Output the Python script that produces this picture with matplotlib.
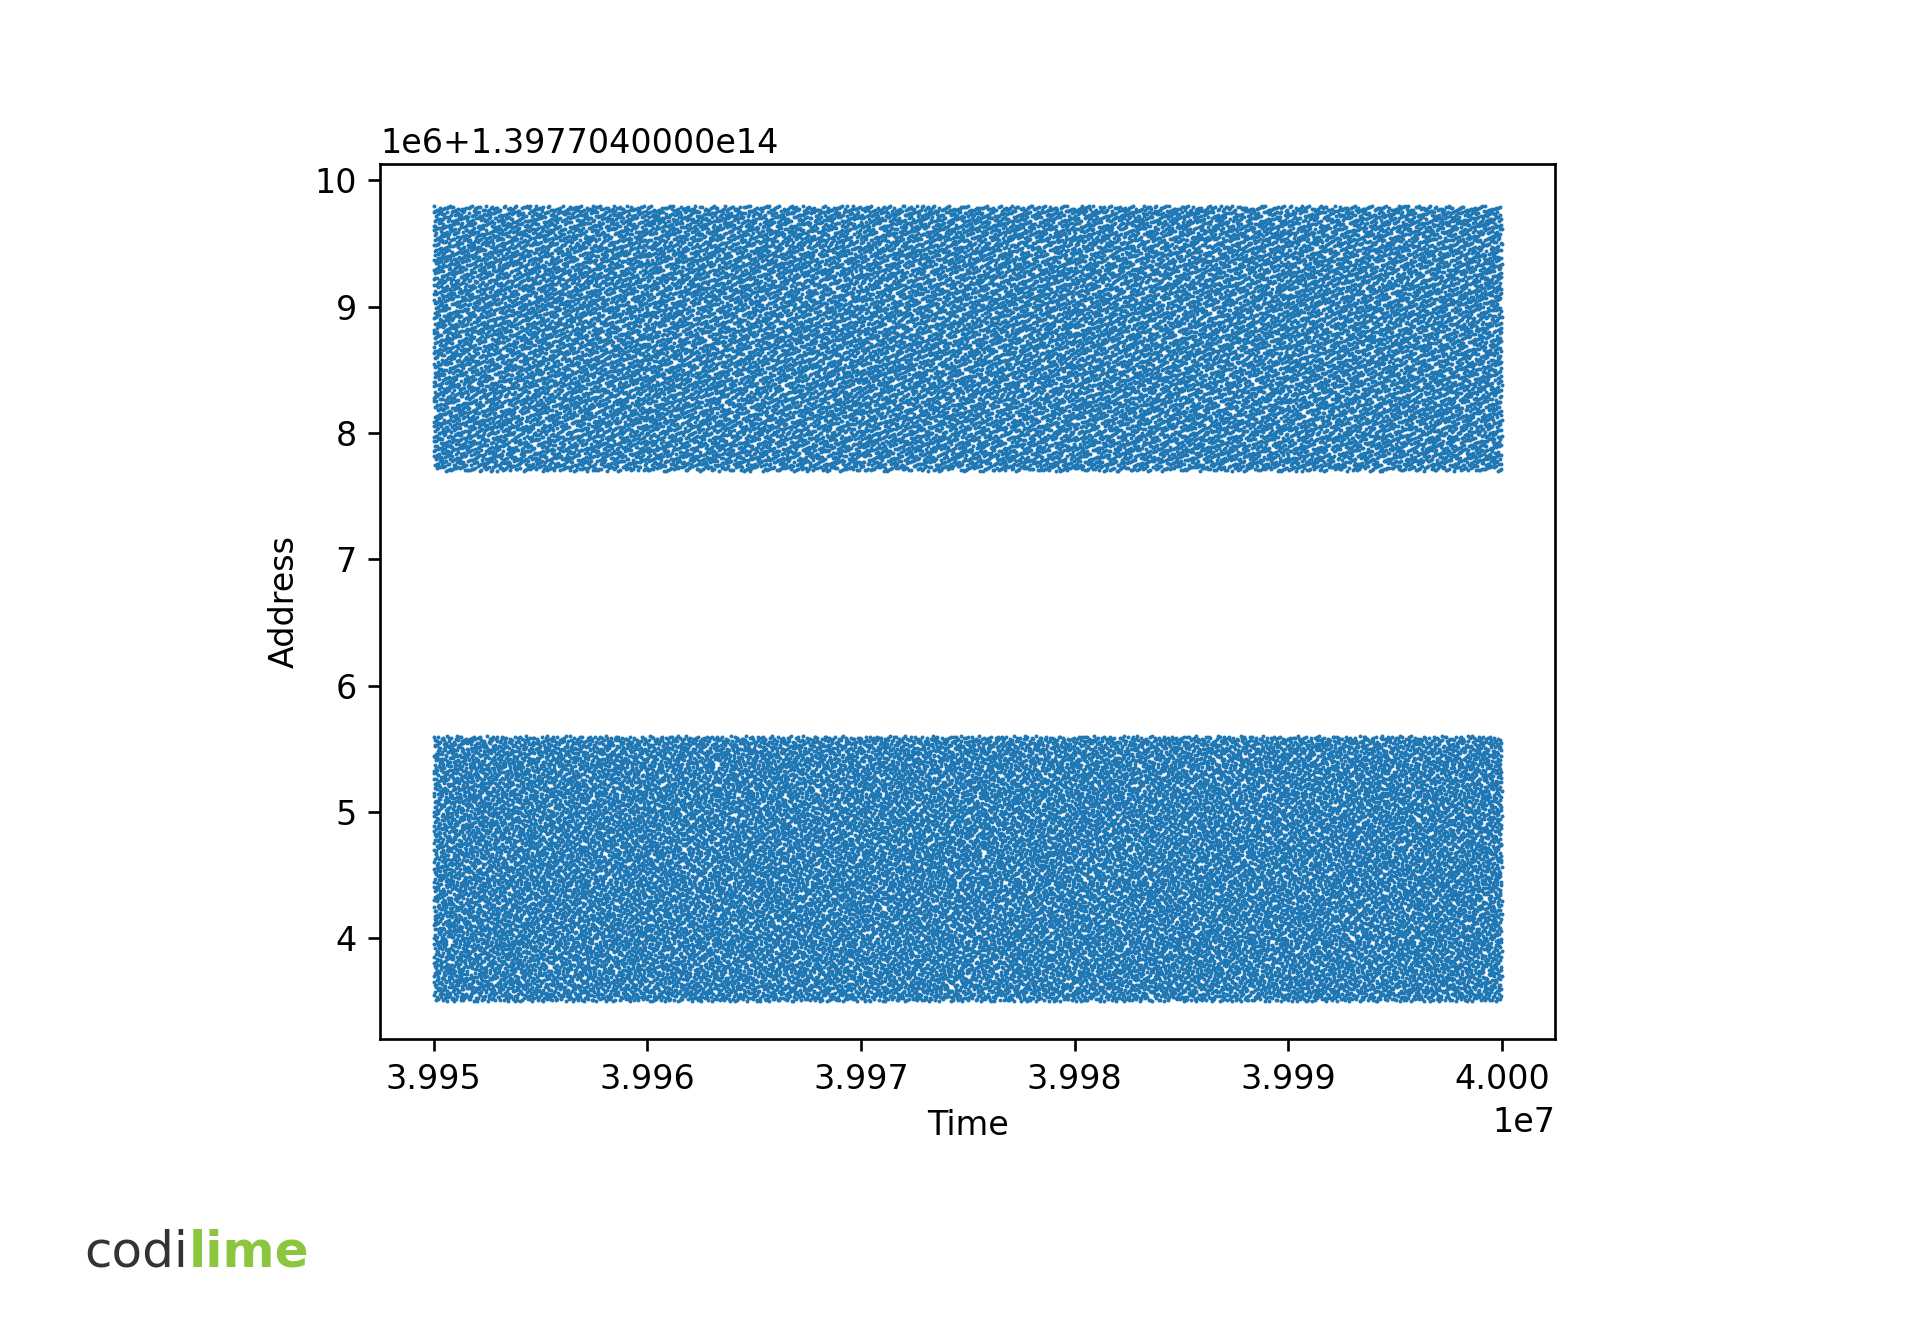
import numpy as np
import matplotlib
matplotlib.use("Agg")
import matplotlib.pyplot as plt

# Time range and the two address bands (address in units of 1e6 above 1.397704e14)
TIME_START, TIME_END = 3.995e7, 4.000e7
BANDS = [(3.5, 5.6), (7.7, 9.8)]
N_PER_BAND = 30000

fig = plt.figure(figsize=(8, 1334 / 240), dpi=240)
ax = fig.add_axes([0.198, 0.221, 0.612, 0.656])

# dense access pattern: quasi-uniform fill of each band (Halton-like sequence)
def halton(n, base):
    out = np.zeros(n)
    f = 1.0
    i = np.arange(1, n + 1)
    while i.any():
        f /= base
        out += f * (i % base)
        i //= base
    return out

for k, (lo, hi) in enumerate(BANDS):
    u = halton(N_PER_BAND, 2 + k * 3)
    v = halton(N_PER_BAND, 3 + k * 4)
    ax.scatter(TIME_START + u * (TIME_END - TIME_START), lo + v * (hi - lo),
               s=1.4, color="#1f77b4", linewidths=0)

ax.set_ylim(3.2, 10.13)
ax.set_yticks([4, 5, 6, 7, 8, 9, 10])
ax.set_xticks([3.995e7, 3.996e7, 3.997e7, 3.998e7, 3.999e7, 4.000e7])
ax.set_xlim(3.99475e7, 4.00025e7)
ax.set_xlabel("Time")
ax.set_ylabel("Address")
ax.text(0.0, 1.005, "1e6+1.3977040000e14", transform=ax.transAxes, ha="left", va="bottom")

# logo
t1 = fig.text(0.044, 0.061, "codi", color="#333333", fontsize=15, va="center")
fig.canvas.draw()
bb = t1.get_window_extent().transformed(fig.transFigure.inverted())
fig.text(bb.x1, 0.061, "lime", color="#8cc63f", fontsize=15, fontweight="bold", va="center")

fig.savefig("out.png")
